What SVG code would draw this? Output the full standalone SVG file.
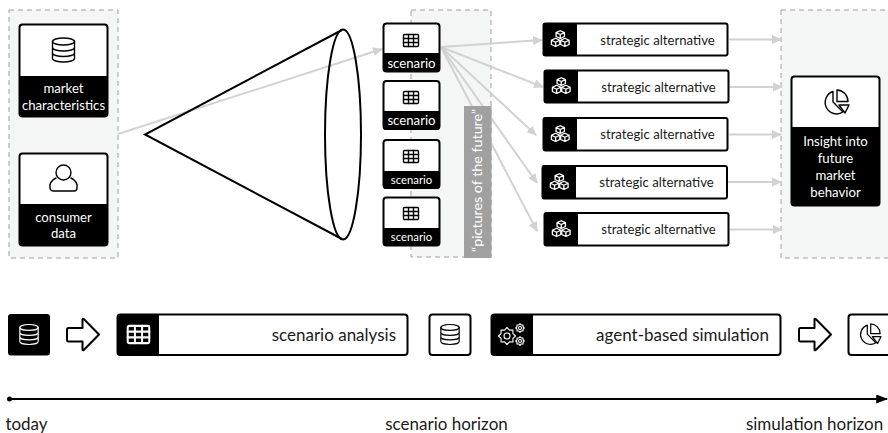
<svg xmlns="http://www.w3.org/2000/svg" width="888" height="433" viewBox="0 0 888 433">
<style>
text{font-family:"Lato","Liberation Sans",sans-serif;text-anchor:middle}
.w{fill:#fff}.k{fill:#000}
.p{fill:#f4f5f5;stroke:#a0a0a0;stroke-width:1;stroke-dasharray:5 4}
.b{fill:#fff;stroke:#000;stroke-width:2}
.g{fill:none;stroke:#d2d2d2;stroke-width:2}
.i{fill:none;stroke:currentColor;stroke-width:1.4;stroke-linejoin:round;stroke-linecap:round}
.t13{font-size:13.200px}.t15{font-size:17px}.t11{font-size:11.300px}.t14{font-size:14.300px}
.d{fill:#1a1a1a}
.e{text-anchor:end}
</style>
<defs>
<marker id="ah" viewBox="0 0 10 10" refX="9" refY="5" markerWidth="10" markerHeight="9" markerUnits="userSpaceOnUse" orient="auto" preserveAspectRatio="none"><path d="M0 0L10 5L0 10z" fill="#d2d2d2"/></marker>
<marker id="ak" viewBox="0 0 10 10" refX="9" refY="5" markerWidth="12" markerHeight="9" markerUnits="userSpaceOnUse" orient="auto" preserveAspectRatio="none"><path d="M0 0L10 5L0 10z" fill="#000"/></marker>
<symbol id="db" viewBox="0 0 24 26" overflow="visible"><g class="i"><ellipse cx="12" cy="4.500" rx="11" ry="3.500"/><path d="M1 4.500V21.500C1 23.500 6 25 12 25S23 23.500 23 21.500V4.500M1 10.500C1 12.500 6 14 12 14S23 12.500 23 10.500M1 16C1 18 6 19.500 12 19.500S23 18 23 16"/></g></symbol>
<symbol id="tb" viewBox="0 0 16 13" overflow="visible"><g class="i" stroke-width="1"><rect x="0.500" y="0.500" width="15" height="12" rx="1"/><path d="M0.500 4.500H15.500M0.500 8.500H15.500M5.500 0.500V12.500M10.500 0.500V12.500"/></g></symbol>
<symbol id="cu" viewBox="0 0 22 20" overflow="visible" preserveAspectRatio="none"><g class="i" stroke-width="0.900"><path d="M11 0.800L15.500 3V7.500L11 9.700L6.500 7.500V3zM6.500 3L11 5.200L15.500 3M11 5.200V9.700"/><path d="M6 9.500L10.500 11.700V16.500L6 18.800L1.500 16.500V11.700zM1.500 11.700L6 14L10.500 11.700M6 14V18.800"/><path d="M16 9.500L20.500 11.700V16.500L16 18.800L11.500 16.500V11.700zM11.500 11.700L16 14L20.500 11.700M16 14V18.800"/></g></symbol>
<symbol id="pie" viewBox="0 0 28 28" overflow="visible"><g class="i"><path d="M12 2.500A11.500 11.500 0 1 0 22 23L12 13z"/><path d="M16 1A11.500 11.500 0 0 1 27 12.500H16z"/><path d="M18 16H28L24 24z"/></g></symbol>
<symbol id="ar" viewBox="0 0 34 34" overflow="visible"><path d="M2.500 10.500H16.500V2Q16.500 0.500 18 1.800L33 17L18 32.200Q16.500 33.500 16.500 32V24H2.500Q1 24 1 22.500V12Q1 10.500 2.500 10.500z" fill="#fff" stroke="#000" stroke-width="2" stroke-linejoin="round"/></symbol>
<path id="gear" d="M10 0L6.930 2.870L7.070 7.070L2.870 6.930L0 10L-2.870 6.930L-7.070 7.070L-6.930 2.870L-10 0L-6.930 -2.870L-7.070 -7.070L-2.870 -6.930L0 -10L2.870 -6.930L7.070 -7.070L6.930 -2.870z" fill="none" stroke="#fff" stroke-linejoin="round" vector-effect="non-scaling-stroke"/>
</defs>

<g id="panel-input"><rect class="p" x="9" y="10" width="109" height="248"/></g>
<g id="panel-scenarios"><rect class="p" x="411" y="10" width="80" height="247"/></g>
<g id="panel-insight"><rect class="p" x="781" y="10" width="110" height="248"/></g>

<g id="connectors">
<path class="g" marker-end="url(#ah)" d="M118 134L382 49"/>
<path class="g" marker-end="url(#ah)" d="M441 47L542 40"/>
<path class="g" marker-end="url(#ah)" d="M441 47L543 87"/>
<path class="g" marker-end="url(#ah)" d="M441 47L536 135"/>
<path class="g" marker-end="url(#ah)" d="M441 47L537 183"/>
<path class="g" marker-end="url(#ah)" d="M441 47L537 231"/>
<path class="g" marker-end="url(#ah)" d="M729 39.500H781"/>
<path class="g" marker-end="url(#ah)" d="M730 87H782"/>
<path class="g" marker-end="url(#ah)" d="M729 134.500H781"/>
<path class="g" marker-end="url(#ah)" d="M728 182H781"/>
<path class="g" marker-end="url(#ah)" d="M730 229.500H782"/>
</g>

<g id="cone" fill="none" stroke="#000" stroke-width="2"><path d="M342 30L145 134.500L342 239"/><ellipse cx="343" cy="134.500" rx="18" ry="105"/></g>

<g id="node-market"><rect class="b" x="19.500" y="24.500" width="88" height="92" rx="3"/><path class="k" d="M19 76H108V114Q108 117 105 117H22Q19 117 19 114z"/><use href="#db" x="51.500" y="37" width="24" height="26" color="#000"/><text class="w t13" x="63.500" y="93">market</text><text class="w t13" x="63.500" y="110">characteristics</text></g>
<g id="node-consumer"><rect class="b" x="19.500" y="153.500" width="88" height="92" rx="3"/><path class="k" d="M19 204H108V243Q108 246 105 246H22Q19 246 19 243z"/><g class="i" color="#000"><circle cx="63.500" cy="172.500" r="7.500"/><path d="M56 178C50 181 49.500 185 50 188Q50.500 191 53 191H74Q77 191 77 188C77.500 185 77 181 71 178"/></g><text class="w t13" x="63.500" y="222">consumer</text><text class="w t13" x="63.500" y="238">data</text></g>

<g id="node-scenario-1"><rect class="b" x="383.500" y="23.500" width="56" height="48" rx="3"/><path class="k" d="M383 53H440V69Q440 72 437 72H386Q383 72 383 69z"/><use href="#tb" x="403" y="34" width="16" height="13" color="#000"/><text class="w t13" x="411.500" y="68">scenario</text></g>
<g id="node-scenario-2"><rect class="b" x="383.500" y="81" width="56" height="48" rx="3"/><path class="k" d="M383 111H440V127Q440 130 437 130H386Q383 130 383 127z"/><use href="#tb" x="403" y="91" width="16" height="13" color="#000"/><text class="w t13" x="411.500" y="125">scenario</text></g>
<g id="node-scenario-3"><rect class="b" x="383.500" y="140" width="56" height="48" rx="3"/><path class="k" d="M383 171H440V186Q440 189 437 189H386Q383 189 383 186z"/><use href="#tb" x="403" y="150" width="16" height="13" color="#000"/><text class="w t11" x="411.500" y="184">scenario</text></g>
<g id="node-scenario-4"><rect class="b" x="383.500" y="197.500" width="56" height="48" rx="3"/><path class="k" d="M383 228H440V243Q440 246 437 246H386Q383 246 383 243z"/><use href="#tb" x="403" y="207" width="16" height="13" color="#000"/><text class="w t11" x="411.500" y="241">scenario</text></g>

<g id="label-pictures"><rect x="464" y="106" width="27.500" height="152" fill="#a0a0a0"/><text class="w t14" transform="translate(482 180.500) rotate(-90)">“pictures of the future”</text></g>

<g id="node-alt-1"><rect class="b" x="543.500" y="23.500" width="184" height="32" rx="2"/><path class="k" d="M546 23H577V56H546Q543 56 543 53V26Q543 23 546 23z"/><use href="#cu" x="550" y="30" width="20.500" height="17.500" color="#fff"/><text class="t13 d" x="657.500" y="45">strategic alternative</text></g>
<g id="node-alt-2"><rect class="b" x="544.500" y="70.500" width="184" height="32" rx="2"/><path class="k" d="M547 70H578V103H547Q544 103 544 100V73Q544 70 547 70z"/><use href="#cu" x="551" y="77" width="20.500" height="17.500" color="#fff"/><text class="t13 d" x="658.500" y="92">strategic alternative</text></g>
<g id="node-alt-3"><rect class="b" x="543.500" y="118" width="184" height="32.500" rx="2"/><path class="k" d="M546 117H577V151H546Q543 151 543 148V120Q543 117 546 117z"/><use href="#cu" x="550" y="125" width="20.500" height="17.500" color="#fff"/><text class="t13 d" x="657.500" y="139">strategic alternative</text></g>
<g id="node-alt-4"><rect class="b" x="542.500" y="166" width="184.500" height="32.500" rx="2"/><path class="k" d="M545 165H576V199H545Q542 199 542 196V168Q542 165 545 165z"/><use href="#cu" x="549" y="173" width="20.500" height="17.500" color="#fff"/><text class="t13 d" x="656.500" y="187">strategic alternative</text></g>
<g id="node-alt-5"><rect class="b" x="544.500" y="213" width="184" height="32.500" rx="2"/><path class="k" d="M547 212H578V246H547Q544 246 544 243V215Q544 212 547 212z"/><use href="#cu" x="551" y="220" width="20.500" height="17.500" color="#fff"/><text class="t13 d" x="658.500" y="234">strategic alternative</text></g>

<g id="node-insight"><rect class="b" x="791.500" y="76.500" width="88" height="129" rx="3"/><path class="k" d="M791 127H880V203Q880 206 877 206H794Q791 206 791 203z"/><use href="#pie" x="821" y="89" width="28" height="28" color="#000"/><text class="w t13" x="835.500" y="146">Insight into</text><text class="w t13" x="835.500" y="163">future</text><text class="w t13" x="835.500" y="180">market</text><text class="w t13" x="835.500" y="197">behavior</text></g>

<g id="step-data-black"><rect class="k" x="8" y="314" width="42" height="41.500" rx="3"/><use href="#db" x="19" y="322.500" width="20" height="24" color="#fff"/></g>
<use id="arrow-1" href="#ar" x="66" y="317.500" width="34" height="34"/>
<g id="step-scenario"><rect class="b" x="117.500" y="314.500" width="290" height="40.500" rx="3"/><path class="k" d="M120 314H159V355.500H120Q117 355.500 117 352.500V317Q117 314 120 314z"/><use href="#tb" x="127" y="325" width="23" height="19" color="#fff"/><text class="t15 d e" x="396" y="341">scenario analysis</text></g>
<g id="step-data-white"><rect class="b" x="429.500" y="314.500" width="41" height="40.500" rx="3"/><use href="#db" x="440" y="322.500" width="20" height="24" color="#000"/></g>
<g id="step-agent"><rect class="b" x="491.500" y="314.500" width="289" height="40.500" rx="3"/><path class="k" d="M494 314H533V355.500H494Q491 355.500 491 352.500V317Q491 314 494 314z"/><g fill="none" stroke="#fff" stroke-width="1.100"><use href="#gear" transform="translate(507 336) scale(0.850)"/><circle cx="507" cy="336" r="3"/><use href="#gear" transform="translate(520 328) scale(0.430)"/><circle cx="520" cy="328" r="1.500"/><use href="#gear" transform="translate(520 341) scale(0.430)"/><circle cx="520" cy="341" r="1.500"/></g><text class="t15 d e" x="769" y="341">agent-based simulation</text></g>
<use id="arrow-2" href="#ar" x="798" y="317.500" width="34" height="34"/>
<g id="step-insight"><rect class="b" x="848.500" y="314.500" width="45" height="40.500" rx="3"/><use href="#pie" x="857" y="323" width="24" height="24" color="#000"/></g>

<g id="timeline"><circle cx="9.500" cy="399" r="2.500" fill="#000"/><path d="M9 399H887" stroke="#000" stroke-width="2" marker-end="url(#ak)"/><text class="t15 d" x="26.500" y="430">today</text><text class="t15 d" x="446.500" y="430">scenario horizon</text><text class="t15 d" x="814.500" y="430">simulation horizon</text></g>
</svg>
